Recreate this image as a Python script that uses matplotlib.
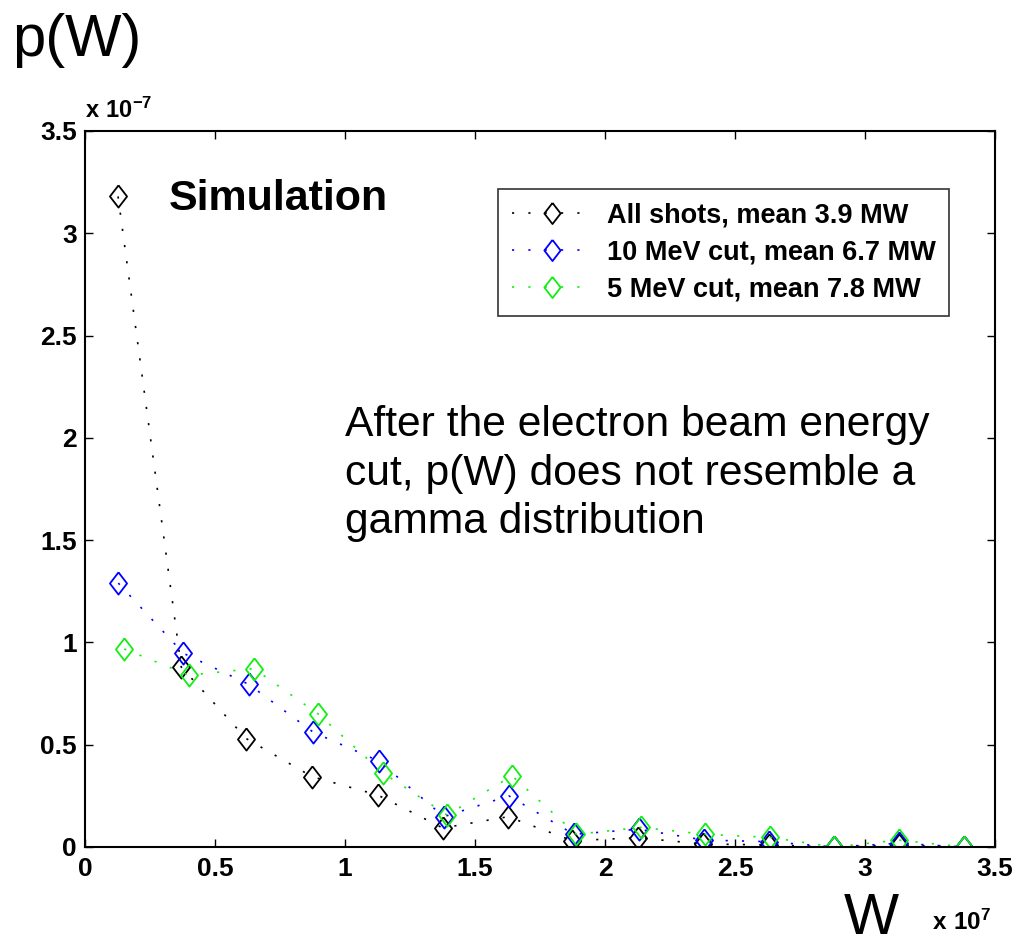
import numpy as np
import matplotlib
matplotlib.use('Agg')
import matplotlib.pyplot as plt
from matplotlib import font_manager

plt.rcParams['font.family'] = ['Liberation Sans', 'DejaVu Sans']
names = {f.name for f in font_manager.fontManager.ttflist}
narrow = 'Liberation Sans Narrow' if 'Liberation Sans Narrow' in names else 'Liberation Sans'
plt.rcParams['mathtext.fontset'] = 'custom'
plt.rcParams['mathtext.rm'] = narrow
plt.rcParams['mathtext.bf'] = narrow + ':bold'

# bin centres (units of 1e7 W) and p(W) values (units of 1e-7)
w_all = [0.127, 0.37, 0.62, 0.873, 1.126, 1.376, 1.627, 1.874, 2.125, 2.375, 2.63, 2.88, 3.13, 3.38]
p_all = [3.18, 0.88, 0.53, 0.344, 0.254, 0.093, 0.148, 0.031, 0.045, 0.015, 0.01, 0.0, 0.01, 0.0]

w_10 = [0.128, 0.378, 0.63, 0.878, 1.13, 1.38, 1.63, 1.88, 2.13, 2.38, 2.63, 2.88, 3.13, 3.38]
p_10 = [1.29, 0.947, 0.795, 0.561, 0.42, 0.148, 0.25, 0.062, 0.087, 0.034, 0.026, 0.0, 0.018, 0.0]

w_5 = [0.151, 0.40, 0.649, 0.897, 1.145, 1.393, 1.642, 1.89, 2.137, 2.386, 2.635, 2.88, 3.13, 3.38]
p_5 = [0.968, 0.84, 0.872, 0.65, 0.363, 0.156, 0.348, 0.062, 0.096, 0.062, 0.047, 0.0, 0.034, 0.0]

labels = ['All shots, mean 3.9 MW', '10 MeV cut, mean 6.7 MW', '5 MeV cut, mean 7.8 MW']
colors = ['black', 'blue', '#11ee11']
ticks = ['0', '0.5', '1', '1.5', '2', '2.5', '3', '3.5']

diamond = [(0, 1), (0.77, 0), (0, -1), (-0.77, 0), (0, 1)]
dots = (0, (1.3, 8.5))

fig = plt.figure(figsize=(10.17, 9.47), dpi=100)
ax = fig.add_axes([0.0836, 0.1056, 0.8948, 0.7561])

series = [(w_all, p_all), (w_10, p_10), (w_5, p_5)]
for (w, p), lab, c in zip(series, labels, colors):
    ax.plot(w, p, linestyle=dots, linewidth=1.2, color=c, marker=diamond,
            markersize=16, markerfacecolor='none', markeredgecolor=c,
            markeredgewidth=1.3, label=lab)

ax.set_xlim(0, 3.5)
ax.set_ylim(0, 3.5)
ax.set_xticks(np.arange(0, 3.51, 0.5))
ax.set_yticks(np.arange(0, 3.51, 0.5))
ax.set_xticklabels(ticks)
ax.set_yticklabels(ticks)
ax.tick_params(direction='in', top=True, right=True, length=6, width=1,
               labelsize=19)
ax.tick_params(axis='x', pad=7)
ax.tick_params(axis='y', pad=6)
for lbl in ax.get_xticklabels() + ax.get_yticklabels():
    lbl.set_fontweight('bold')
for s in ax.spines.values():
    s.set_linewidth(1.5)

leg = ax.legend(loc='upper right', bbox_to_anchor=(0.9495, 0.919), borderaxespad=0,
                prop={'weight': 'bold', 'size': 19.5}, frameon=True, fancybox=False,
                edgecolor='black', handlelength=3.0, borderpad=0.5,
                labelspacing=0.4, handletextpad=0.5, markerscale=0.95)
leg.get_frame().set_linewidth(1.2)

ax.text(0.092, 0.905, 'Simulation', transform=ax.transAxes, fontsize=31,
        fontweight='bold', va='center', ha='left')
fig.text(345 / 1017, 1 - 405 / 947,
         'After the electron beam energy\ncut, p(W) does not resemble a\ngamma distribution',
         fontsize=30.7, va='top', ha='left', linespacing=1.28)

fig.text(0.012, 1 - 40 / 947, 'p(W)', fontsize=43, va='center', ha='left')
fig.text(871 / 1017, 1 - 934 / 947, 'W', fontsize=42, va='baseline', ha='center')
fig.text(932 / 1017, 1 - 930 / 947, r'$\mathbf{x\ 10^{7}}$', fontsize=17.5, va='baseline', ha='left')
fig.text(85 / 1017, 1 - 118 / 947, r'$\mathbf{x\ 10^{-7}}$', fontsize=17, va='baseline', ha='left')

fig.savefig('out.png', dpi=100)
